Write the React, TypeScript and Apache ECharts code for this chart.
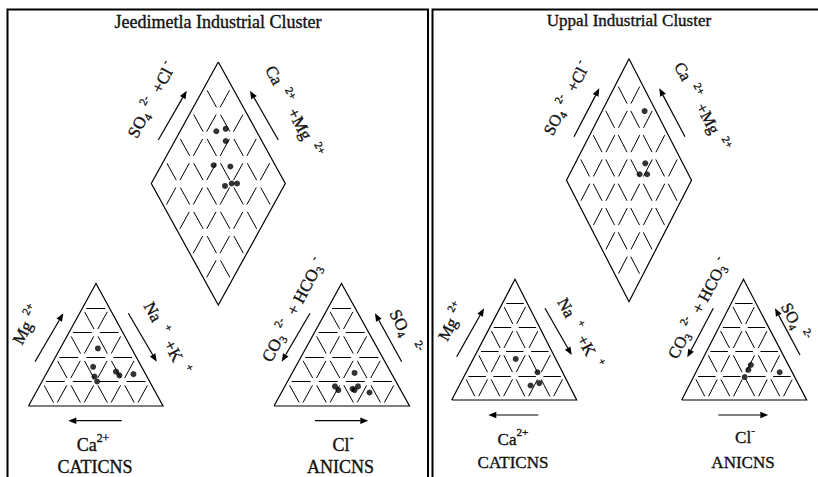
import React, { useEffect, useRef } from 'react';
import * as echarts from 'echarts';

// ---------------- Data (percent) ----------------
// Jeedimetla Industrial Cluster
const jeedCationCa = [25, 36, 39, 39, 21, 20, 9];
const jeedCationMg = [47, 32, 24, 20, 28, 25, 26];
const jeedCationNaK = [28, 32, 37, 41, 51, 55, 65];
const jeedAnionHCO3 = [27, 47, 46, 35, 34, 30, 24];
const jeedAnionSO4 = [27, 16, 13, 14, 13, 16, 11];
const jeedAnionCl = [46, 37, 41, 51, 53, 54, 65];
const jeedDiamondSO4Cl = [70, 78, 73, 54, 66, 54, 60, 64];
const jeedDiamondCaMg = [73, 67, 62, 61, 48, 44, 40, 36];

// Uppal Industrial Cluster
const uppalCationCa = [32, 20, 23, 31];
const uppalCationMg = [34, 23, 14, 12];
const uppalCationNaK = [34, 57, 63, 57];
const uppalAnionHCO3 = [30, 34, 40, 10];
const uppalAnionSO4 = [29, 25, 19, 23];
const uppalAnionCl = [41, 41, 41, 67];
const uppalDiamondSO4Cl = [91, 70, 61, 67];
const uppalDiamondCaMg = [66, 44, 44, 38];

const gridPercents = [20, 40, 60, 80];
const panelTitles = ['Jeedimetla Industrial Cluster', 'Uppal Industrial Cluster'];
const cationTitle = 'CATICNS';
const anionTitle = 'ANICNS';

// ---------------- Layout ----------------
type P = [number, number];
interface Tri { bl: P; br: P; ap: P }
interface Dia { t: P; l: P; r: P; b: P }

const FONT = "'Liberation Serif', 'Times New Roman', serif";
const INK = '#111';
const TEXT_STROKE = 0.35;

function tern(tri: Tri, wbl: number, wap: number, wbr: number): P {
  const s = wbl + wap + wbr;
  return [
    (tri.bl[0] * wbl + tri.ap[0] * wap + tri.br[0] * wbr) / s,
    (tri.bl[1] * wbl + tri.ap[1] * wap + tri.br[1] * wbr) / s,
  ];
}
function dpos(d: Dia, p: number, q: number): P {
  return [
    d.b[0] + p * (d.r[0] - d.b[0]) + q * (d.l[0] - d.b[0]),
    d.b[1] + p * (d.r[1] - d.b[1]) + q * (d.l[1] - d.b[1]),
  ];
}
function seg(a: P, b: P, cells: number) {
  const L = Math.hypot(b[0] - a[0], b[1] - a[1]);
  const c = L / cells;
  return { coords: [a, b], lineStyle: { type: [c * 0.7, c * 0.3], dashOffset: c * 0.85 } };
}
function triGrid(tri: Tri) {
  const out: any[] = [];
  for (const pct of gridPercents) {
    const f = pct / 100;
    const cells = Math.round((1 - f) * 5);
    out.push(seg(tern(tri, 1 - f, f, 0), tern(tri, 0, f, 1 - f), cells));
    out.push(seg(tern(tri, 1 - f, 0, f), tern(tri, 0, 1 - f, f), cells));
    out.push(seg(tern(tri, f, 0, 1 - f), tern(tri, f, 1 - f, 0), cells));
  }
  return out;
}
function diaGrid(d: Dia) {
  const out: any[] = [];
  for (const pct of gridPercents) {
    const f = pct / 100;
    out.push(seg(dpos(d, f, 0), dpos(d, f, 1), 5));
    out.push(seg(dpos(d, 0, f), dpos(d, 1, f), 5));
  }
  return out;
}

function tok(size: number, padding?: number[]) {
  const t: any = { fontSize: size, fontFamily: FONT, fill: INK, stroke: INK, lineWidth: TEXT_STROKE };
  if (padding) t.padding = padding;
  return t;
}
function rich(s: number) {
  return {
    n: tok(s),
    sub: tok(s * 0.66, [s * 0.55, 0, 0, 0]),
    sup: tok(s * 0.66, [0, 0, s * 0.8, 0]),
  };
}
function label(x: number, y: number, deg: number, text: string, s: number) {
  return {
    type: 'text', x, y, rotation: (deg * Math.PI) / 180, z: 10,
    style: {
      text, rich: rich(s), align: 'center', verticalAlign: 'middle',
      fontFamily: FONT, fontSize: s, fill: INK, stroke: INK, lineWidth: TEXT_STROKE,
    },
  };
}
function plain(x: number, y: number, text: string, s: number) {
  return {
    type: 'text', x, y, z: 10,
    style: {
      text, align: 'center', verticalAlign: 'middle',
      fontFamily: FONT, fontSize: s, fill: INK, stroke: INK, lineWidth: TEXT_STROKE,
    },
  };
}
function arrow(x1: number, y1: number, x2: number, y2: number) {
  const dx = x2 - x1, dy = y2 - y1, L = Math.hypot(dx, dy);
  const ux = dx / L, uy = dy / L, hl = 8, hw = 3.2;
  const bx = x2 - ux * hl, by = y2 - uy * hl;
  return [
    { type: 'line', z: 10, shape: { x1, y1, x2: bx, y2: by }, style: { stroke: '#000', lineWidth: 1.2 } },
    { type: 'polygon', z: 10, shape: { points: [[x2, y2], [bx - uy * hw, by + ux * hw], [bx + uy * hw, by - ux * hw]] }, style: { fill: '#000' } },
  ];
}

const panels = [
  {
    cat: { bl: [28.5, 406], br: [163, 406], ap: [96, 283.5] } as Tri,
    an: { bl: [274, 406], br: [409.5, 406], ap: [341.5, 283.5] } as Tri,
    dia: { t: [218.3, 62], l: [151.3, 183.5], r: [285.3, 183.5], b: [218.3, 305] } as Dia,
    ca: jeedCationCa, mg: jeedCationMg, nak: jeedCationNaK,
    hco3: jeedAnionHCO3, so4: jeedAnionSO4, cl: jeedAnionCl,
    dp: jeedDiamondSO4Cl, dq: jeedDiamondCaMg,
  },
  {
    cat: { bl: [451.7, 400], br: [576.7, 400], ap: [515, 279.3] } as Tri,
    an: { bl: [681.7, 400], br: [806.7, 400], ap: [743.5, 279.3] } as Tri,
    dia: { t: [629, 58.8], l: [566.5, 180.3], r: [691.5, 180.3], b: [629, 301.8] } as Dia,
    ca: uppalCationCa, mg: uppalCationMg, nak: uppalCationNaK,
    hco3: uppalAnionHCO3, so4: uppalAnionSO4, cl: uppalAnionCl,
    dp: uppalDiamondSO4Cl, dq: uppalDiamondCaMg,
  },
];

function buildOption() {
  const outlines: any[] = [];
  const grids: any[] = [];
  const points: P[] = [];
  for (const pn of panels) {
    outlines.push({ coords: [pn.cat.bl, pn.cat.br, pn.cat.ap, pn.cat.bl] });
    outlines.push({ coords: [pn.an.bl, pn.an.br, pn.an.ap, pn.an.bl] });
    outlines.push({ coords: [pn.dia.t, pn.dia.r, pn.dia.b, pn.dia.l, pn.dia.t] });
    grids.push(...triGrid(pn.cat), ...triGrid(pn.an), ...diaGrid(pn.dia));
    pn.ca.forEach((v, i) => points.push(tern(pn.cat, v, pn.mg[i], pn.nak[i])));
    pn.hco3.forEach((v, i) => points.push(tern(pn.an, v, pn.so4[i], pn.cl[i])));
    pn.dp.forEach((v, i) => points.push(dpos(pn.dia, v / 100, pn.dq[i] / 100)));
  }

  const graphic: any[] = [
    { type: 'rect', shape: { x: 7.5, y: 9.5, width: 420.5, height: 490 }, style: { fill: 'none', stroke: '#000', lineWidth: 2 } },
    { type: 'rect', shape: { x: 432.5, y: 9.5, width: 420, height: 490 }, style: { fill: 'none', stroke: '#000', lineWidth: 2 } },
    plain(218, 22, panelTitles[0], 18),
    plain(629, 20, panelTitles[1], 17),

    // Left panel labels
    label(151.7, 100, 62, '{n|SO}{sub|4}{sup|  2-}{n|  +Cl}{sup| -}', 17),
    label(293.3, 111.7, -62, '{n|Ca}{sup|   2+}{n|  +Mg}{sup|   2+}', 17),
    label(26.7, 325, 62, '{n|Mg}{sup|  2+}', 17),
    label(166.7, 338.3, -62, '{n|Na}{sup|   +}{n|  +K}{sup|   +}', 17),
    label(293.3, 310, 62, '{n|CO}{sub|3}{sup|  2-}{n|  + HCO}{sub|3}{sup| -}', 17),
    label(405, 331.7, -62, '{n|SO}{sub|4}{sup|    2-}', 17),
    label(93, 445, 0, '{n|Ca}{sup|2+}', 18),
    plain(95, 467, cationTitle, 18),
    label(343, 445, 0, '{n|Cl}{sup|-}', 18),
    plain(340.5, 467, anionTitle, 18),

    // Right panel labels
    label(566.7, 98.3, 62, '{n|SO}{sub|4}{sup|  2-}{n|  +Cl}{sup| -}', 16.5),
    label(701.7, 106.7, -62, '{n|Ca}{sup|   2+}{n|  +Mg}{sup|   2+}', 16.5),
    label(451.7, 321.7, 62, '{n|Mg}{sup|  2+}', 16.5),
    label(580, 333.3, -62, '{n|Na}{sup|   +}{n|  +K}{sup|   +}', 16.5),
    label(698.3, 308.3, 62, '{n|CO}{sub|3}{sup|  2-}{n|  + HCO}{sub|3}{sup| -}', 16.5),
    label(795, 322, -62, '{n|SO}{sub|4}{sup|  2-}', 16.5),
    label(513, 439, 0, '{n|Ca}{sup|2+}', 17),
    plain(513, 462, cationTitle, 17),
    label(745, 437, 0, '{n|Cl}{sup|-}', 17),
    plain(743, 462, anionTitle, 17),

    // Arrows, left panel
    ...arrow(158.3, 140, 186.7, 90.7),
    ...arrow(278.3, 140, 250, 90.7),
    ...arrow(35, 361.7, 63.3, 313.3),
    ...arrow(128.3, 313.3, 156.7, 361.7),
    ...arrow(310, 313.3, 281.7, 361.7),
    ...arrow(401.7, 361.7, 375, 313.3),
    ...arrow(121.7, 420.7, 68.3, 420.7),
    ...arrow(315, 420.7, 368.3, 420.7),
    // Arrows, right panel
    ...arrow(574, 136.7, 599.3, 88.3),
    ...arrow(685, 136.7, 659.3, 88.3),
    ...arrow(456.7, 356.7, 484, 308.3),
    ...arrow(545, 308.3, 571.7, 355),
    ...arrow(713.3, 308.3, 687.3, 357.3),
    ...arrow(800, 355, 775, 308.3),
    ...arrow(538.3, 415, 488.3, 415),
    ...arrow(718.3, 415, 768.3, 415),
  ];

  return {
    animation: false,
    backgroundColor: '#fff',
    grid: { left: 0, right: 0, top: 0, bottom: 0, containLabel: false },
    xAxis: { type: 'value', min: 0, max: 818, show: false },
    yAxis: { type: 'value', min: 0, max: 477, inverse: true, show: false },
    graphic,
    series: [
      {
        type: 'lines', coordinateSystem: 'cartesian2d', polyline: true, silent: true, z: 3,
        lineStyle: { color: '#000', width: 1.2, opacity: 1, type: 'solid' },
        data: outlines,
      },
      {
        type: 'lines', coordinateSystem: 'cartesian2d', polyline: false, silent: true, z: 2,
        lineStyle: { color: '#000', width: 1, opacity: 1 },
        data: grids,
      },
      {
        type: 'scatter', symbol: 'circle', symbolSize: 6, silent: true, z: 5,
        itemStyle: { color: '#000' },
        data: points,
      },
    ],
  };
}

export default function App() {
  const ref = useRef<HTMLDivElement>(null);
  useEffect(() => {
    const chart = echarts.init(ref.current!, undefined, { renderer: 'svg' });
    chart.setOption(buildOption() as any);
    return () => chart.dispose();
  }, []);
  return (
    <div
      ref={ref}
      style={{ position: 'fixed', left: 0, top: 0, width: 818, height: 477, background: '#fff' }}
    />
  );
}
